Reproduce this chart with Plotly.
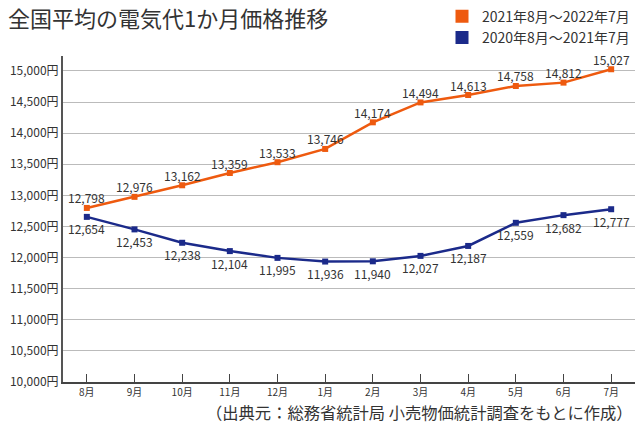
import plotly.graph_objects as go

months = ["8月", "9月", "10月", "11月", "12月", "1月", "2月", "3月", "4月", "5月", "6月", "7月"]
price_2021_22 = [12798, 12976, 13162, 13359, 13533, 13746, 14174, 14494, 14613, 14758, 14812, 15027]
price_2020_21 = [12654, 12453, 12238, 12104, 11995, 11936, 11940, 12027, 12187, 12559, 12682, 12777]
name_2021_22 = "2021年8月～2022年7月"
name_2020_21 = "2020年8月～2021年7月"

ORANGE = "#EE5A0F"
NAVY = "#1B2A8A"
FONT = "Noto Sans CJK JP"
TXT = "#333333"

fig = go.Figure()

# series lines
fig.add_trace(go.Scatter(
    x=months, y=price_2021_22, mode="lines+markers",
    line=dict(color=ORANGE, width=2.5),
    marker=dict(symbol="square", size=6, color=ORANGE),
    showlegend=False, hoverinfo="skip"))
fig.add_trace(go.Scatter(
    x=months, y=price_2020_21, mode="lines+markers",
    line=dict(color=NAVY, width=2.5),
    marker=dict(symbol="square", size=6, color=NAVY),
    showlegend=False, hoverinfo="skip"))

# legend entries (square swatches)
for nm, col in [(name_2021_22, ORANGE), (name_2020_21, NAVY)]:
    fig.add_trace(go.Scatter(x=[None], y=[None], mode="markers", name=nm,
                             marker=dict(symbol="square", size=13, color=col)))

# value labels: orange above, navy below
labels = []
for m, v in zip(months, price_2021_22):
    labels.append(dict(x=m, y=v, text=f"{v:,}", showarrow=False, yshift=10,
                       font=dict(size=12, color=TXT, family=FONT)))
for m, v in zip(months, price_2020_21):
    labels.append(dict(x=m, y=v, text=f"{v:,}", showarrow=False, yshift=-12,
                       font=dict(size=12, color=TXT, family=FONT)))
labels.append(dict(text="（出典元：総務省統計局 小売物価統計調査をもとに作成）",
                   xref="paper", yref="paper", x=1.0, xanchor="right",
                   y=-0.091, yanchor="middle", showarrow=False,
                   font=dict(size=16.3, color=TXT, family=FONT)))

fig.update_layout(
    width=635, height=426,
    margin=dict(l=63, r=0, t=52, b=44),
    paper_bgcolor="white", plot_bgcolor="white",
    font=dict(family=FONT, color=TXT),
    title=dict(text="全国平均の電気代1か月価格推移", x=8 / 635, xanchor="left",
               y=1 - 19 / 426, yanchor="middle",
               font=dict(size=22, color=TXT, family=FONT)),
    legend=dict(x=1.0, xanchor="right", y=1.17, yanchor="top",
                font=dict(size=14, color=TXT, family=FONT),
                tracegroupgap=0, itemwidth=30, bgcolor="rgba(0,0,0,0)"),
    annotations=labels,
)

fig.update_xaxes(
    type="category", range=[-0.5, 11.5],
    showline=True, linecolor="#444444", linewidth=1.5,
    ticks="inside", ticklen=8, tickcolor="#444444",
    tickfont=dict(size=10, color=TXT), showgrid=False)
fig.update_yaxes(
    range=[10000, 15240], tick0=10000, dtick=500,
    tickformat=",d", ticksuffix="円",
    showline=True, linecolor="#555555", linewidth=2,
    gridcolor="#BBBBBB", gridwidth=1, zeroline=False,
    tickfont=dict(size=12, color=TXT))

fig.write_html("out.html", config={"displayModeBar": False},
               post_script="document.body.style.margin='0px';document.body.style.overflow='hidden';")
